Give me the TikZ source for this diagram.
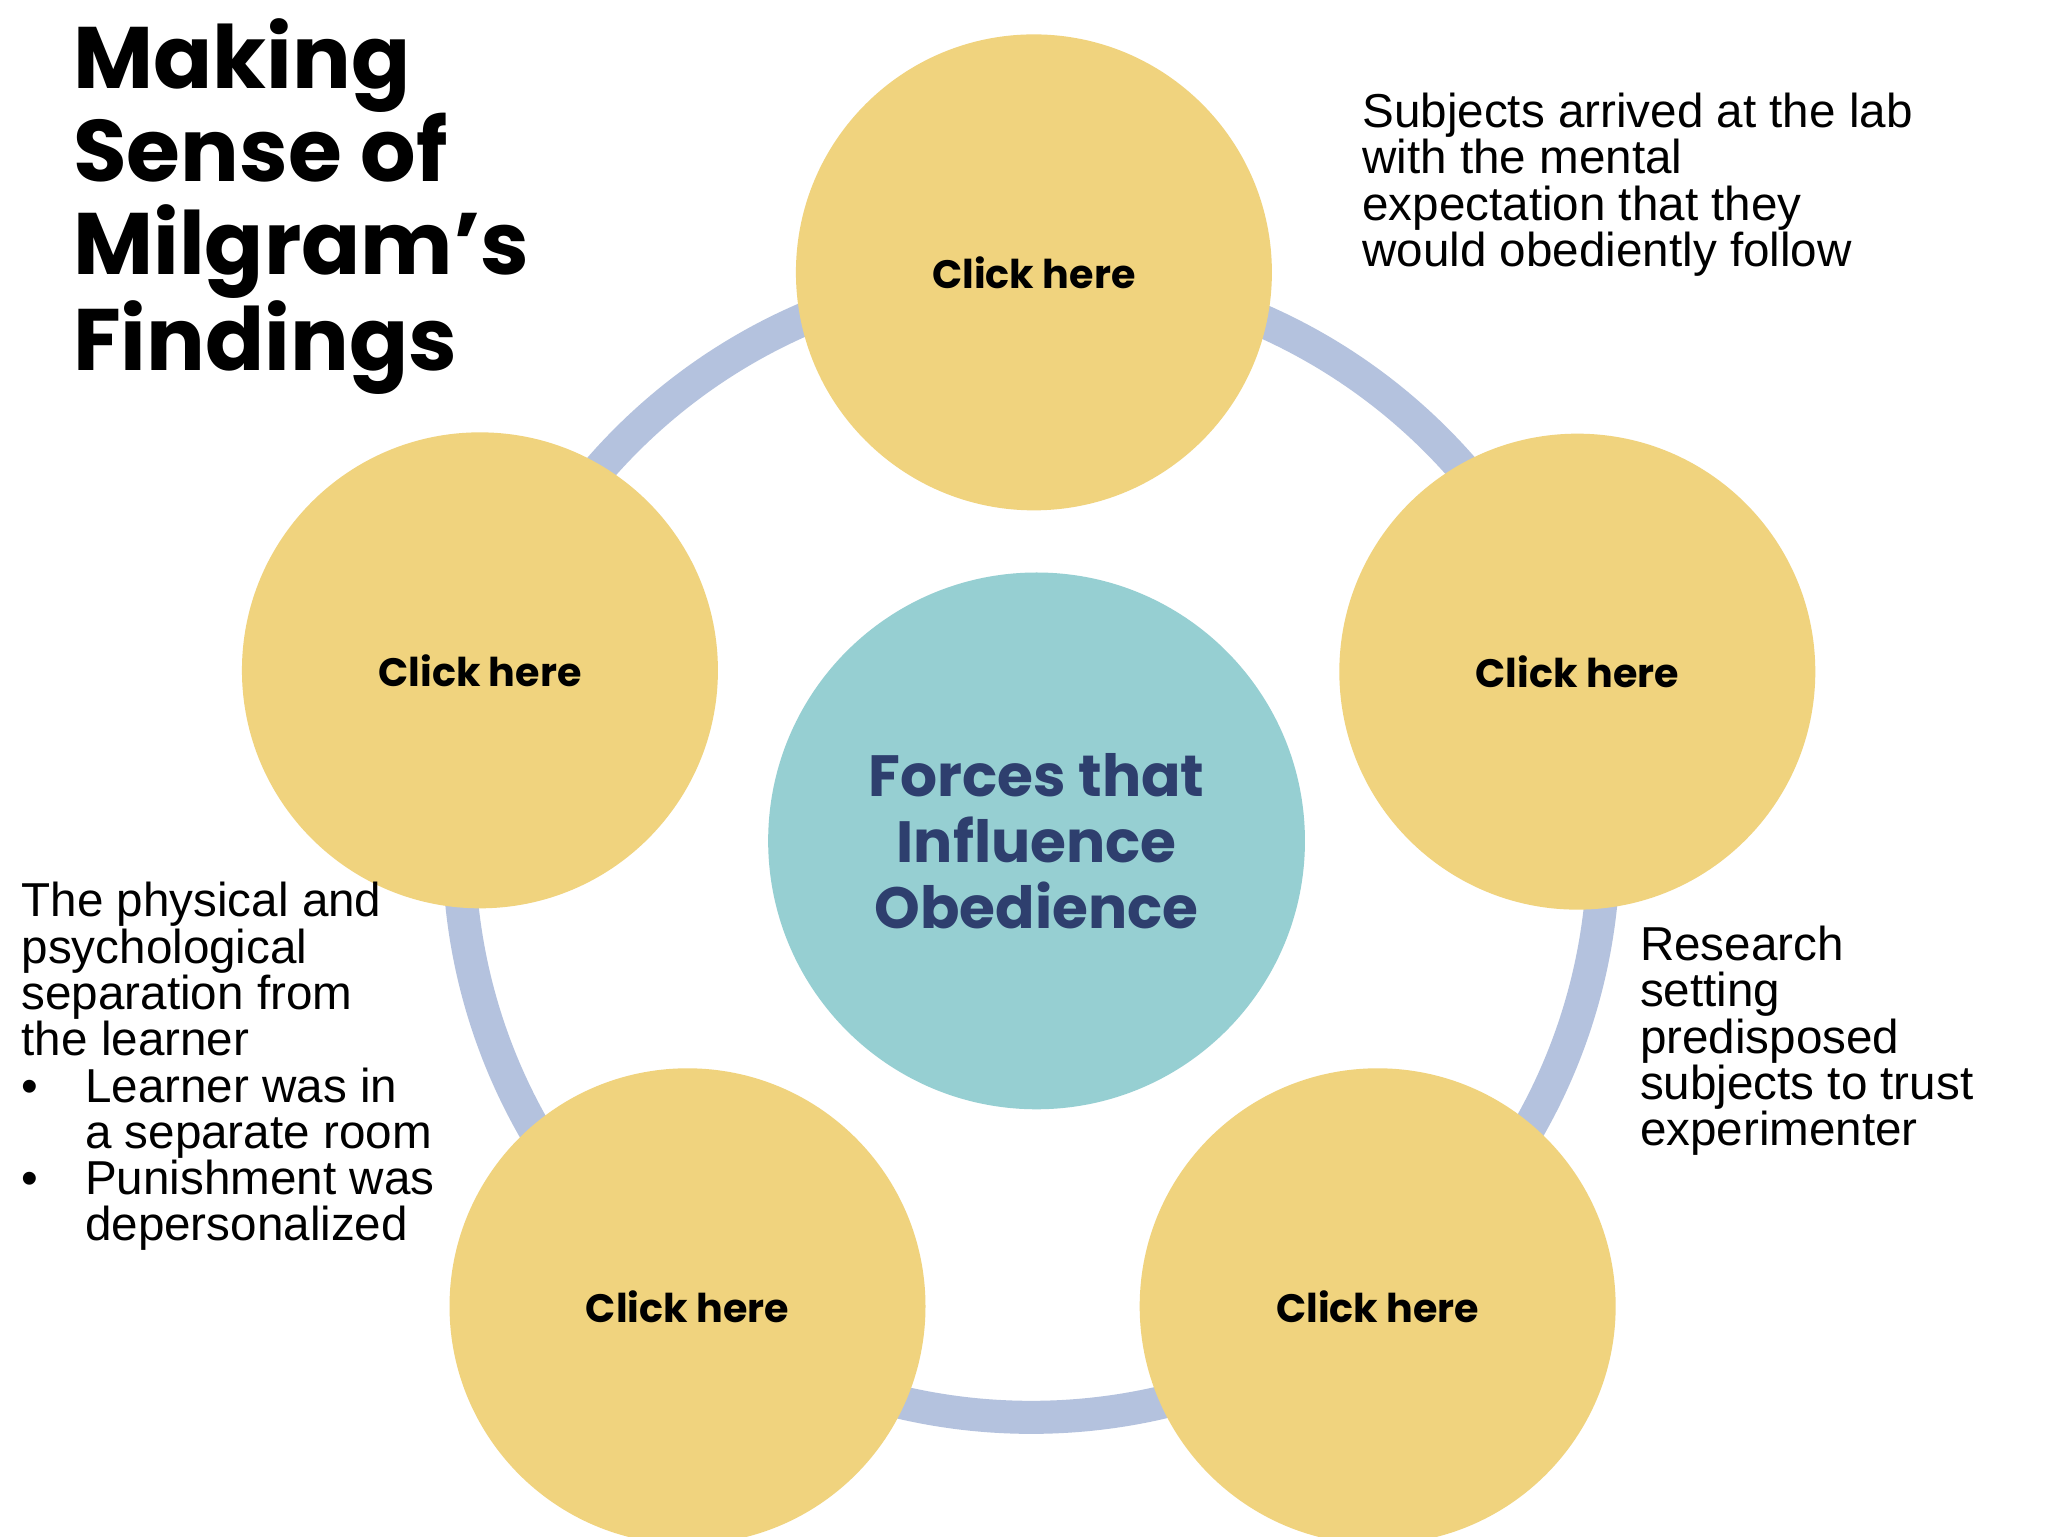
\documentclass[tikz,border=0pt]{standalone}
\usepackage{fontspec}
\setmainfont{Liberation Sans}
\newfontfamily\geo{Poppins}
\definecolor{cyel}{HTML}{F0D37E}
\definecolor{cteal}{HTML}{96CFD2}
\definecolor{cring}{HTML}{B4C2DE}
\definecolor{cnavy}{HTML}{2E3F6E}
\begin{document}
\begin{tikzpicture}[x=0.5pt,y=-0.5pt,
  outer/.style={circle,fill=cyel,minimum size=180pt,inner sep=0pt,font=\geo\bfseries\fontsize{15}{18}\selectfont},
  txt/.style={anchor=north west,align=left,inner sep=0pt,font=\fontsize{18}{17.5}\selectfont}]
\useasboundingbox[fill=white] (0,0) rectangle (1549,1162);
\coordinate (ring) at (780,639);
\draw[cring,line width=12.5pt] (ring) circle[radius=216.5pt];
\node[outer] (c1) at (782,206) {Click here};
\node[outer] (c2) at (1193,508) {Click here};
\node[outer] (c3) at (1042,988) {Click here};
\node[outer] (c4) at (520,988) {Click here};
\node[outer] (c5) at (363,507) {Click here};
\node[circle,fill=cteal,minimum size=203pt,inner sep=0pt,align=center,text=cnavy,font=\geo\bfseries\fontsize{22}{25}\selectfont] (ctr) at (784,636) {Forces that\\Influence\\Obedience};
\node[anchor=north west,align=left,inner sep=0pt,font=\geo\bfseries\fontsize{33}{35}\selectfont] (title) at (55,14) {Making\\Sense of\\Milgram’s\\Findings};
\node[txt] (t1) at (1030,70) {Subjects arrived at the lab\\with the mental\\expectation that they\\would obediently follow};
\node[txt] (t2) at (1240,700) {Research\\setting\\predisposed\\subjects to trust\\experimenter};
\node[txt] (t3) at (16,667) {The physical and\\psychological\\separation from\\the learner\\\makebox[24pt][l]{•}Learner was in\\\hspace*{24pt}a separate room\\\makebox[24pt][l]{•}Punishment was\\\hspace*{24pt}depersonalized};
\end{tikzpicture}
\end{document}
